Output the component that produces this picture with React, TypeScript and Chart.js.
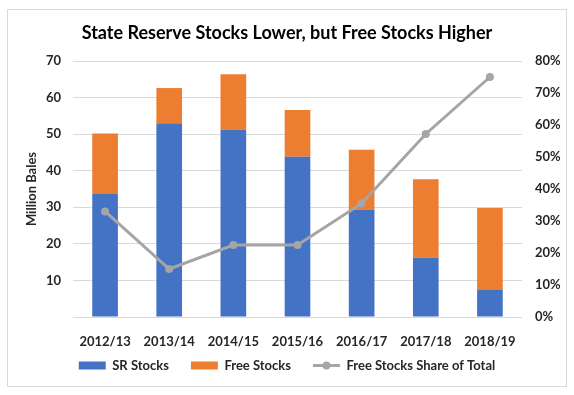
import React, { useEffect, useRef } from "react";
import { Chart, registerables } from "chart.js";
Chart.register(...registerables);

const categories = ["2012/13", "2013/14", "2014/15", "2015/16", "2016/17", "2017/18", "2018/19"];
const srStocks = [33.6, 53.0, 51.3, 43.8, 29.4, 16.2, 7.4];
const freeStocks = [16.6, 9.6, 15.1, 12.8, 16.3, 21.5, 22.4];
const freeShare = [0.33, 0.15, 0.225, 0.225, 0.355, 0.572, 0.75];
const leftTicks = [0, 70, 10];
const rightTicks = [0, 0.8, 0.1];

const BLUE = "#4472C4";
const ORANGE = "#ED7D31";
const GRAY = "#A5A5A5";
const FONT = "Lato";
const TXT = "#262626";

export default function App() {
  const ref = useRef<HTMLCanvasElement>(null);
  useEffect(() => {
    const lineMarker = {
      id: "lineMarker",
      afterLayout(chart: any) {
        const lg = chart.legend;
        if (lg) {
          lg.top -= 7;
          lg.bottom -= 7;
        }
      },
      afterDraw(chart: any) {
        const lg = chart.legend;
        if (!lg || !lg.legendHitBoxes || !lg.legendHitBoxes[2]) return;
        const hb = lg.legendHitBoxes[2];
        const ctx = chart.ctx;
        const cy = hb.top + hb.height / 2;
        const x0 = hb.left;
        const w = 27;
        ctx.save();
        ctx.strokeStyle = GRAY;
        ctx.lineWidth = 3;
        ctx.beginPath();
        ctx.moveTo(x0, cy);
        ctx.lineTo(x0 + w, cy);
        ctx.stroke();
        ctx.fillStyle = GRAY;
        ctx.beginPath();
        ctx.arc(x0 + w / 2, cy, 4, 0, Math.PI * 2);
        ctx.fill();
        ctx.restore();
      },
    };
    const chart = new Chart(ref.current!, {
      type: "bar",
      data: {
        labels: categories,
        datasets: [
          { type: "bar", label: "SR Stocks", data: srStocks, backgroundColor: BLUE, yAxisID: "y", order: 2, stack: "s" },
          { type: "bar", label: "Free Stocks", data: freeStocks, backgroundColor: ORANGE, yAxisID: "y", order: 2, stack: "s" },
          {
            type: "line",
            label: "Free Stocks Share of Total",
            data: freeShare,
            borderColor: GRAY,
            backgroundColor: GRAY,
            borderWidth: 3,
            pointRadius: 4,
            pointBackgroundColor: GRAY,
            pointBorderWidth: 0,
            yAxisID: "y1",
            order: 0,
          } as any,
        ],
      },
      plugins: [lineMarker],
      options: {
        responsive: false,
        animation: false,
        datasets: { bar: { categoryPercentage: 0.8, barPercentage: 0.5 } },
        layout: { padding: { left: 14, right: 14, top: 12, bottom: 6 } },
        plugins: {
          title: {
            display: true,
            text: "State Reserve Stocks Lower, but Free Stocks Higher",
            color: "#000",
            font: { family: FONT, size: 18, weight: "bold" },
            padding: { top: 10, bottom: 17.4 },
          },
          legend: {
            position: "bottom",
            labels: {
              boxWidth: 27,
              boxHeight: 8,
              padding: 22,
              color: TXT,
              font: { family: FONT, size: 13, weight: "bold" },
              sort: (a: any, b: any) => a.datasetIndex - b.datasetIndex,
              generateLabels: (chart: any) => {
                const items = Chart.defaults.plugins.legend.labels.generateLabels(chart);
                return items.map((it: any) => {
                  if (it.datasetIndex === 2) {
                    return { ...it, fillStyle: "rgba(0,0,0,0)", strokeStyle: "rgba(0,0,0,0)", lineWidth: 0 };
                  }
                  return { ...it, lineWidth: 0, strokeStyle: "rgba(0,0,0,0)" };
                });
              },
            },
          },
          tooltip: { enabled: false },
        },
        scales: {
          x: {
            stacked: true,
            grid: { display: false, drawTicks: false },
            border: { display: false },
            ticks: { color: TXT, padding: 17, font: { family: FONT, size: 13, weight: "bold" } },
            afterFit: (s: any) => {
              s.height = 27;
              s._computeLabelArea = () => undefined;
            },
          },
          y: {
            stacked: true,
            position: "left",
            min: leftTicks[0],
            max: leftTicks[1],
            ticks: {
              stepSize: leftTicks[2],
              padding: 12,
              color: TXT,
              font: { family: FONT, size: 13, weight: "bold" },
              callback: (v: any) => (v === 0 ? "" : String(v)),
            },
            grid: { color: "#d9d9d9", lineWidth: 1, drawTicks: false },
            border: { display: false },
            title: {
              display: true,
              text: "Million Bales",
              color: TXT,
              font: { family: FONT, size: 13, weight: "bold" },
              padding: { top: 10, bottom: 0 },
            },
            afterFit: (s: any) => { s.width = 59; },
          },
          y1: {
            position: "right",
            min: rightTicks[0],
            max: rightTicks[1],
            ticks: {
              stepSize: rightTicks[2],
              padding: 13,
              color: TXT,
              font: { family: FONT, size: 13, weight: "bold" },
              callback: (v: any) => Math.round(v * 100) + "%",
            },
            grid: { display: false, drawTicks: false },
            border: { display: false },
            afterFit: (s: any) => { s.width = 38; },
          },
        },
      } as any,
    });
    return () => chart.destroy();
  }, []);
  return (
    <div style={{ position: "fixed", left: 0, top: 0, width: 574, height: 395, background: "#fff" }}>
      <div
        style={{
          position: "absolute",
          left: 7,
          top: 9,
          width: 560,
          height: 378,
          boxSizing: "border-box",
          border: "1px solid #d9d9d9",
        }}
      />
      <canvas ref={ref} width={574} height={395} style={{ position: "absolute", left: 0, top: 0 }} />
    </div>
  );
}
